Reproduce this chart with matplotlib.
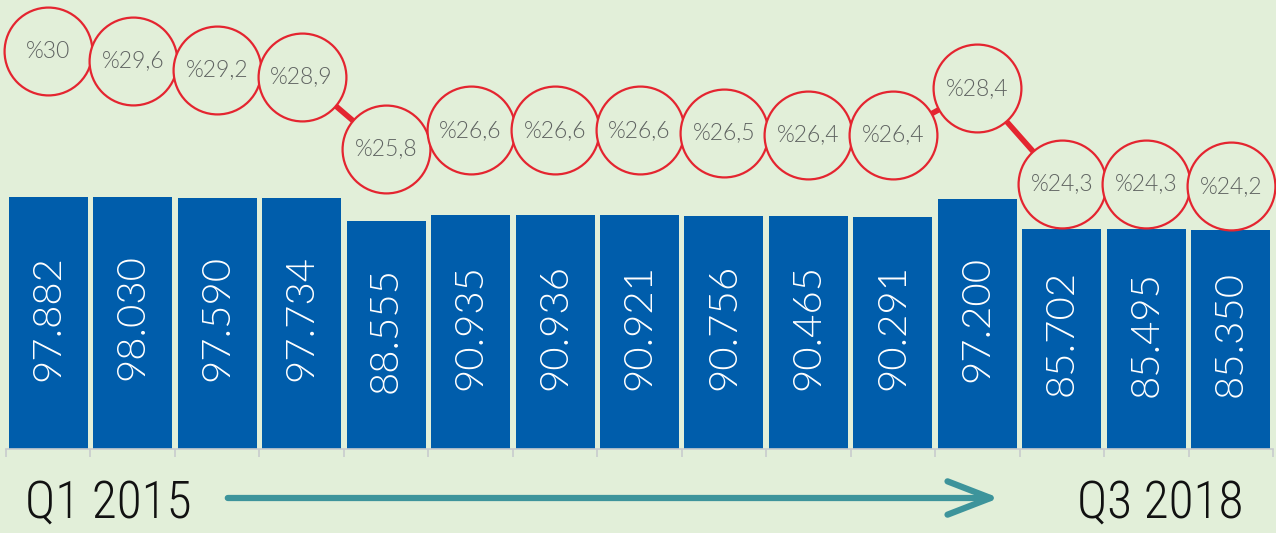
import matplotlib
matplotlib.use("Agg")
import matplotlib.pyplot as plt
from matplotlib.patches import FancyArrowPatch

# ---- data ----
quarters = ["Q1 2015", "Q2 2015", "Q3 2015", "Q4 2015", "Q1 2016", "Q2 2016", "Q3 2016",
            "Q4 2016", "Q1 2017", "Q2 2017", "Q3 2017", "Q4 2017", "Q1 2018", "Q2 2018", "Q3 2018"]
counts = [97882, 98030, 97590, 97734, 88555, 90935, 90936, 90921, 90756, 90465, 90291,
          97200, 85702, 85495, 85350]
shares = [30, 29.6, 29.2, 28.9, 25.8, 26.6, 26.6, 26.6, 26.5, 26.4, 26.4, 28.4, 24.3, 24.3, 24.2]
start_label = "Q1 2015"
end_label = "Q3 2018"

BG = "#e2efd9"
BLUE = "#005dab"
RED = "#e42530"
GREY_TXT = "#5f6361"
TEAL = "#3d949b"

fig = plt.figure(figsize=(12.76, 5.33), dpi=100, facecolor=BG)
W, H = 1276, 533
left_px, right_px = 6, 1273
base_px = 449
ax = fig.add_axes([left_px / W, (H - base_px) / H, (right_px - left_px) / W, base_px / H])
ax.set_facecolor(BG)
x = list(range(len(counts)))
ax.bar(x, counts, width=0.935, color=BLUE, zorder=2)
ax.set_xlim(-0.5, len(counts) - 0.5)
ax.set_ylim(0, 174600)
for s in ["top", "left", "right"]:
    ax.spines[s].set_visible(False)
ax.spines["bottom"].set_color("#c8ccce")
ax.spines["bottom"].set_linewidth(1.2)
ax.set_yticks([])
ax.set_xticks([i - 0.5 for i in range(len(counts) + 1)])
ax.set_xticklabels([])
ax.tick_params(axis="x", length=6, width=1.2, color="#c8ccce", direction="out")

for i, v in enumerate(counts):
    lab = f"{v:,}".replace(",", ".")
    ax.annotate(lab, (i, v / 2), xytext=(0, 4), textcoords="offset points",
                rotation=90, ha="center", va="center", color="white",
                fontsize=29, family="Lato", fontweight=300, zorder=3)

# percentage circles
ax2 = ax.twinx()
ax2.set_position(ax.get_position())
ax2.set_ylim(12.91, 32.2)
ax2.axis("off")
ax2.plot(x, shares, color=RED, lw=4, zorder=1, solid_capstyle="butt", clip_on=False)
ax2.scatter(x, shares, s=4000, facecolor=BG, edgecolor=RED, linewidth=1.6, zorder=2,
            clip_on=False)
for i, p in enumerate(shares):
    lab = "%" + f"{p:g}".replace(".", ",")
    ax2.text(i, p, lab, ha="center", va="center", color=GREY_TXT, fontsize=16.5,
             family="Lato", fontweight=300, zorder=3)

# bottom labels and arrow
fig.text(108 / W, 1 - 504 / H, start_label, ha="center", va="center", fontsize=37,
         family="Roboto Condensed", fontweight=300, color="#111111")
fig.text(1160 / W, 1 - 504 / H, end_label, ha="center", va="center", fontsize=37,
         family="Roboto Condensed", fontweight=300, color="#111111")
fig.patches.append(FancyArrowPatch(
    (225 / W, 1 - 498 / H), (1002 / W, 1 - 498 / H), transform=fig.transFigure,
    arrowstyle="->,head_length=3.1,head_width=1.2", mutation_scale=10,
    color=TEAL, lw=4.5, capstyle="round", joinstyle="round"))

fig.savefig("out.png", dpi=100, facecolor=BG)
